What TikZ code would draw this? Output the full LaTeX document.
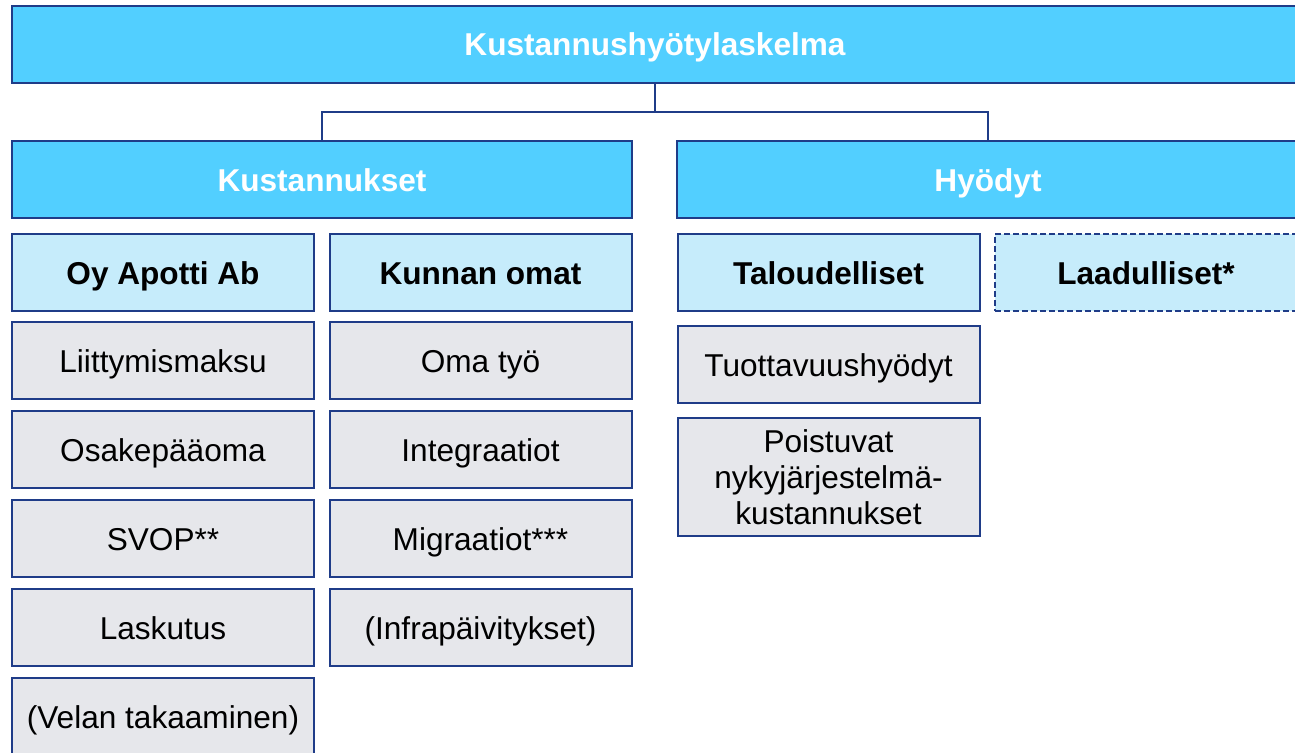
\documentclass[tikz,border=0pt]{standalone}
\usepackage{fontspec}
\setmainfont{Liberation Sans}
\definecolor{bdr}{HTML}{1F3C88}
\definecolor{cyanbox}{HTML}{52CFFF}
\definecolor{lightbox}{HTML}{C6ECFB}
\definecolor{graybox}{HTML}{E6E7EB}
\begin{document}
\begin{tikzpicture}[x=1pt,y=-1pt,
  base/.style={draw=bdr,line width=2pt,inner sep=0pt,align=center,text height=23pt,text depth=0pt,font=\fontsize{31.6}{36}\selectfont},
  mainbox/.style={base,fill=cyanbox,text=white,font=\fontsize{31.6}{36}\selectfont\bfseries},
  subbox/.style={base,fill=lightbox,text=black,font=\fontsize{31.6}{36}\selectfont\bfseries,minimum width=302pt,minimum height=77pt},
  itembox/.style={base,fill=graybox,text=black,minimum width=302pt,minimum height=77pt},
  conn/.style={draw=bdr,line width=2pt}]
\clip (0,0) rectangle (1295,752);
\fill[white] (0,0) rectangle (1295,752);
\node[mainbox,minimum width=1286pt,minimum height=77pt] (top) at (655,44.5) {Kustannushyötylaskelma};
\node[mainbox,minimum width=620pt,minimum height=77pt] (kust) at (322,179.5) {Kustannukset};
\node[mainbox,minimum width=622pt,minimum height=77pt] (hyo) at (988,179.5) {Hyödyt};
\coordinate (j) at (655,112);
\draw[conn] (top.south) -- (j);
\draw[conn] (kust.north) |- (j) -| (hyo.north);
\node[subbox] (apotti) at (163,272.5) {Oy Apotti Ab};
\node[subbox] (kunnan) at (480.5,272.5) {Kunnan omat};
\node[subbox] (talo) at (828.5,272.5) {Taloudelliset};
\node[subbox,dash pattern=on 6pt off 3pt] (laadu) at (1146,272.5) {Laadulliset*};
\node[itembox] (a1) at (163,360.5) {Liittymismaksu};
\node[itembox] (a2) at (163,449.5) {Osakepääoma};
\node[itembox] (a3) at (163,538.5) {SVOP**};
\node[itembox] (a4) at (163,627.5) {Laskutus};
\node[itembox] (a5) at (163,716.5) {(Velan takaaminen)};
\node[itembox] (b1) at (480.5,360.5) {Oma työ};
\node[itembox] (b2) at (480.5,449.5) {Integraatiot};
\node[itembox] (b3) at (480.5,538.5) {Migraatiot***};
\node[itembox] (b4) at (480.5,627.5) {(Infrapäivitykset)};
\node[itembox] (t1) at (828.5,364.5) {Tuottavuushyödyt};
\node[itembox,minimum height=118pt,text height=,text depth=] (t2) at (828.5,477) {Poistuvat\\nykyjärjestelmä-\\kustannukset};
\end{tikzpicture}
\end{document}
